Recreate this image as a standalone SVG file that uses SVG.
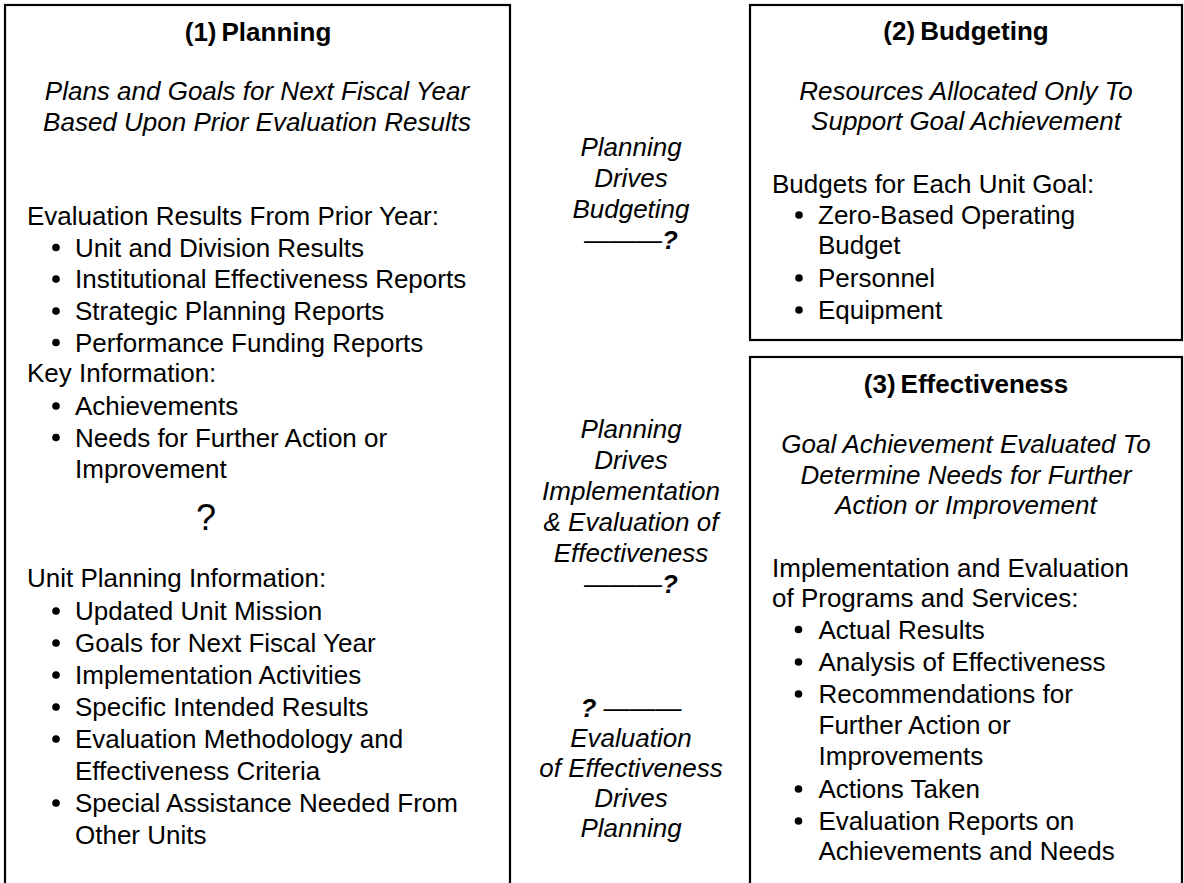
<svg xmlns="http://www.w3.org/2000/svg" width="1184" height="883" viewBox="0 0 1184 883">
  <style>
    text { font-family: "Liberation Sans", Arial, Helvetica, sans-serif; font-size: 26px; fill: #000; }
    .h { font-weight: bold; }
    .i { font-style: italic; }
    .c { text-anchor: middle; }
    .b { font-weight: bold; font-style: italic; }
    .frame { fill: none; stroke: #000; stroke-width: 2.2; }
    .dot { fill: #000; }
    .sym { font-size: 36px; }
  </style>
  <rect width="1184" height="883" fill="#fff"/>

  <!-- (1) Planning -->
  <g id="planning">
    <rect class="frame" x="5" y="5" width="505" height="900"/>
    <text class="h c" x="258" y="41">(1)<tspan dx="5">Planning</tspan></text>
    <text class="i c" x="257" y="100">Plans and Goals for Next Fiscal Year</text>
    <text class="i c" x="257" y="131">Based Upon Prior Evaluation Results</text>

    <text x="27" y="225">Evaluation Results From Prior Year:</text>
    <circle class="dot" cx="56" cy="247.5" r="3.8"/>
    <text x="75" y="256.5">Unit and Division Results</text>
    <circle class="dot" cx="56" cy="279" r="3.8"/>
    <text x="75" y="288">Institutional Effectiveness Reports</text>
    <circle class="dot" cx="56" cy="311" r="3.8"/>
    <text x="75" y="320">Strategic Planning Reports</text>
    <circle class="dot" cx="56" cy="342.5" r="3.8"/>
    <text x="75" y="351.5">Performance Funding Reports</text>

    <text x="27" y="382">Key Information:</text>
    <circle class="dot" cx="56" cy="406" r="3.8"/>
    <text x="75" y="415">Achievements</text>
    <circle class="dot" cx="56" cy="437.5" r="3.8"/>
    <text x="75" y="446.5">Needs for Further Action or</text>
    <text x="75" y="477.5">Improvement</text>

    <text class="sym c" x="206" y="530">?</text>

    <text x="27" y="587">Unit Planning Information:</text>
    <circle class="dot" cx="56" cy="611" r="3.8"/>
    <text x="75" y="620">Updated Unit Mission</text>
    <circle class="dot" cx="56" cy="643" r="3.8"/>
    <text x="75" y="652">Goals for Next Fiscal Year</text>
    <circle class="dot" cx="56" cy="675" r="3.8"/>
    <text x="75" y="684">Implementation Activities</text>
    <circle class="dot" cx="56" cy="707" r="3.8"/>
    <text x="75" y="716">Specific Intended Results</text>
    <circle class="dot" cx="56" cy="739" r="3.8"/>
    <text x="75" y="748">Evaluation Methodology and</text>
    <text x="75" y="780">Effectiveness Criteria</text>
    <circle class="dot" cx="56" cy="803" r="3.8"/>
    <text x="75" y="812">Special Assistance Needed From</text>
    <text x="75" y="844">Other Units</text>
  </g>

  <!-- (2) Budgeting -->
  <g id="budgeting">
    <rect class="frame" x="750" y="5" width="432" height="335"/>
    <text class="h c" x="966" y="40">(2)<tspan dx="5">Budgeting</tspan></text>
    <text class="i c" x="966" y="100">Resources Allocated Only To</text>
    <text class="i c" x="966" y="130">Support Goal Achievement</text>

    <text x="772" y="193">Budgets for Each Unit Goal:</text>
    <circle class="dot" cx="799" cy="215" r="3.8"/>
    <text x="818" y="224">Zero-Based Operating</text>
    <text x="818" y="254">Budget</text>
    <circle class="dot" cx="799" cy="278" r="3.8"/>
    <text x="818" y="287">Personnel</text>
    <circle class="dot" cx="799" cy="310" r="3.8"/>
    <text x="818" y="319">Equipment</text>
  </g>

  <!-- (3) Effectiveness -->
  <g id="effectiveness">
    <rect class="frame" x="750" y="357" width="432" height="548"/>
    <text class="h c" x="966" y="393">(3)<tspan dx="5">Effectiveness</tspan></text>
    <text class="i c" x="966" y="453">Goal Achievement Evaluated To</text>
    <text class="i c" x="966" y="484">Determine Needs for Further</text>
    <text class="i c" x="966" y="514">Action or Improvement</text>

    <text x="772" y="577">Implementation and Evaluation</text>
    <text x="772" y="607">of Programs and Services:</text>
    <circle class="dot" cx="798.5" cy="629.5" r="3.8"/>
    <text x="818.5" y="638.5">Actual Results</text>
    <circle class="dot" cx="798.5" cy="662" r="3.8"/>
    <text x="818.5" y="671">Analysis of Effectiveness</text>
    <circle class="dot" cx="798.5" cy="694" r="3.8"/>
    <text x="818.5" y="703">Recommendations for</text>
    <text x="818.5" y="734">Further Action or</text>
    <text x="818.5" y="765">Improvements</text>
    <circle class="dot" cx="798.5" cy="789" r="3.8"/>
    <text x="818.5" y="798">Actions Taken</text>
    <circle class="dot" cx="798.5" cy="821" r="3.8"/>
    <text x="818.5" y="830">Evaluation Reports on</text>
    <text x="818.5" y="860">Achievements and Needs</text>
  </g>

  <!-- relationship labels between the stages -->
  <g id="connectors">
    <g id="planning-to-budgeting">
      <text class="i c" x="631" y="156">Planning</text>
      <text class="i c" x="631" y="187">Drives</text>
      <text class="i c" x="631" y="218">Budgeting</text>
      <text class="i c" x="631" y="249">———<tspan class="b">?</tspan></text>
    </g>
    <g id="planning-to-effectiveness">
      <text class="i c" x="631" y="438">Planning</text>
      <text class="i c" x="631" y="469">Drives</text>
      <text class="i c" x="631" y="500">Implementation</text>
      <text class="i c" x="631" y="531">&amp; Evaluation of</text>
      <text class="i c" x="631" y="562">Effectiveness</text>
      <text class="i c" x="631" y="593">———<tspan class="b">?</tspan></text>
    </g>
    <g id="effectiveness-to-planning">
      <text class="i c" x="631" y="717"><tspan class="b">?</tspan> ———</text>
      <text class="i c" x="631" y="747">Evaluation</text>
      <text class="i c" x="631" y="777">of Effectiveness</text>
      <text class="i c" x="631" y="807">Drives</text>
      <text class="i c" x="631" y="837">Planning</text>
    </g>
  </g>
</svg>
